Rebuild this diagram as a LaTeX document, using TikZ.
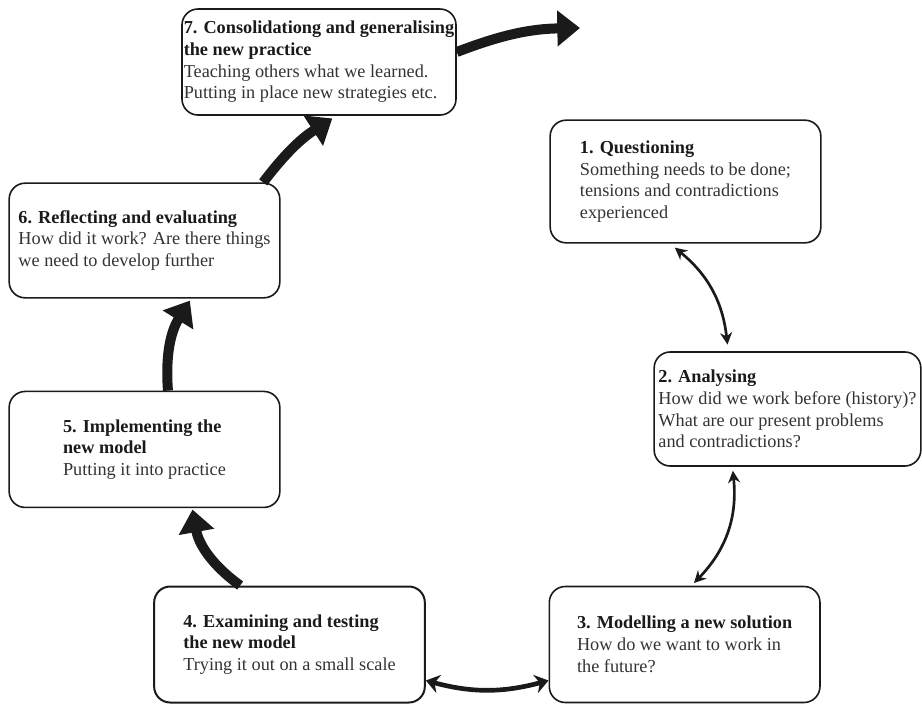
\documentclass[tikz,border=0pt]{standalone}
\usepackage{fontspec}
\setmainfont{Liberation Serif}
\usepackage{tikz}
\usetikzlibrary{arrows.meta, positioning}
\definecolor{ink}{HTML}{1A1A1A}
\definecolor{bodytext}{HTML}{333333}
\newcommand{\stagetitle}[1]{\textcolor{ink}{\textbf{#1}}}

\begin{document}
\begin{tikzpicture}[
      x=0.75pt, y=-0.75pt,
      stage/.style={rectangle, draw=ink, line width=1.2pt, rounded corners=12pt,
                    minimum width=203pt, minimum height=87pt, inner sep=0pt,
                    align=left, text=bodytext,
                    font=\fontsize{13.7}{16.3}\selectfont},
      twoway/.style={{Stealth[length=9pt,width=9pt]}-{Stealth[length=9pt,width=9pt]},
                     line width=2pt, ink},
      flow/.style={-{Triangle[length=17pt,width=26pt]}, line width=7.5pt, ink}
    ]
    \useasboundingbox (0,0) rectangle (922,704);

    % Right-hand side
    \node[stage, minimum height=92pt] (quest) at (685.5,181.5)
      {\stagetitle{1. Questioning}\\Something needs to be done;\\tensions and contradictions\\experienced};
    \node[stage, minimum width=200pt, minimum height=85.5pt] (anal) at (787.5,409)
      {\stagetitle{2. Analysing}\\How did we work before (history)?\\What are our present problems\\and contradictions?};

    % Bottom row
    \node[stage, line width=1.5pt] (exam) at (289.5,644.5)
      {\stagetitle{4. Examining and testing}\\\stagetitle{the new model}\\Trying it out on a small scale};
    \node[stage, right=92pt of exam] (model)
      {\stagetitle{3. Modelling a new solution}\\How do we want to work in\\the future?};

    % Left column
    \node[stage, minimum height=86pt] (refl) at (144.5,240.5)
      {\stagetitle{6. Reflecting and evaluating}\\How did it work? Are there things\\we need to develop further};
    \node[stage, below=69pt of refl] (impl)
      {\stagetitle{5. Implementing the}\\\stagetitle{new model}\\Putting it into practice};

    % Top
    \node[stage, minimum width=205.5pt, minimum height=79.5pt] (cons) at (319,62)
      {\stagetitle{7. Consolidationg and generalising}\\\stagetitle{the new practice}\\Teaching others what we learned.\\Putting in place new strategies etc.};
    \coordinate (onward) at (580,28);

    \draw[twoway] ([xshift=-8pt,yshift=-3pt]quest.south) to[bend left=22] ([xshift=-45pt,yshift=5pt]anal.north);
    \draw[twoway] ([xshift=-41pt,yshift=-3pt]anal.south) to[bend left=25] ([xshift=7pt,yshift=2pt]model.north);
    \draw[twoway, line width=3.5pt, {Stealth[length=10pt,width=14pt]}-{Stealth[length=10pt,width=14pt]}]
      ([yshift=-27pt]exam.east) to[bend right=15] ([yshift=-27pt]model.west);
    \draw[flow] ([xshift=-37pt]exam.north) to[bend left=22] ([xshift=36pt,yshift=-1pt]impl.south);
    \draw[flow] ([xshift=17.6pt]impl.north) to[bend left=18] ([xshift=34pt,yshift=-1.5pt]refl.south);
    \draw[flow] ([xshift=89pt]refl.north) to[bend left=10] ([xshift=10pt,yshift=-2pt]cons.south);
    \draw[flow] ([yshift=7.5pt]cons.east) to[bend left=10] (onward);
  \end{tikzpicture}
\end{document}
